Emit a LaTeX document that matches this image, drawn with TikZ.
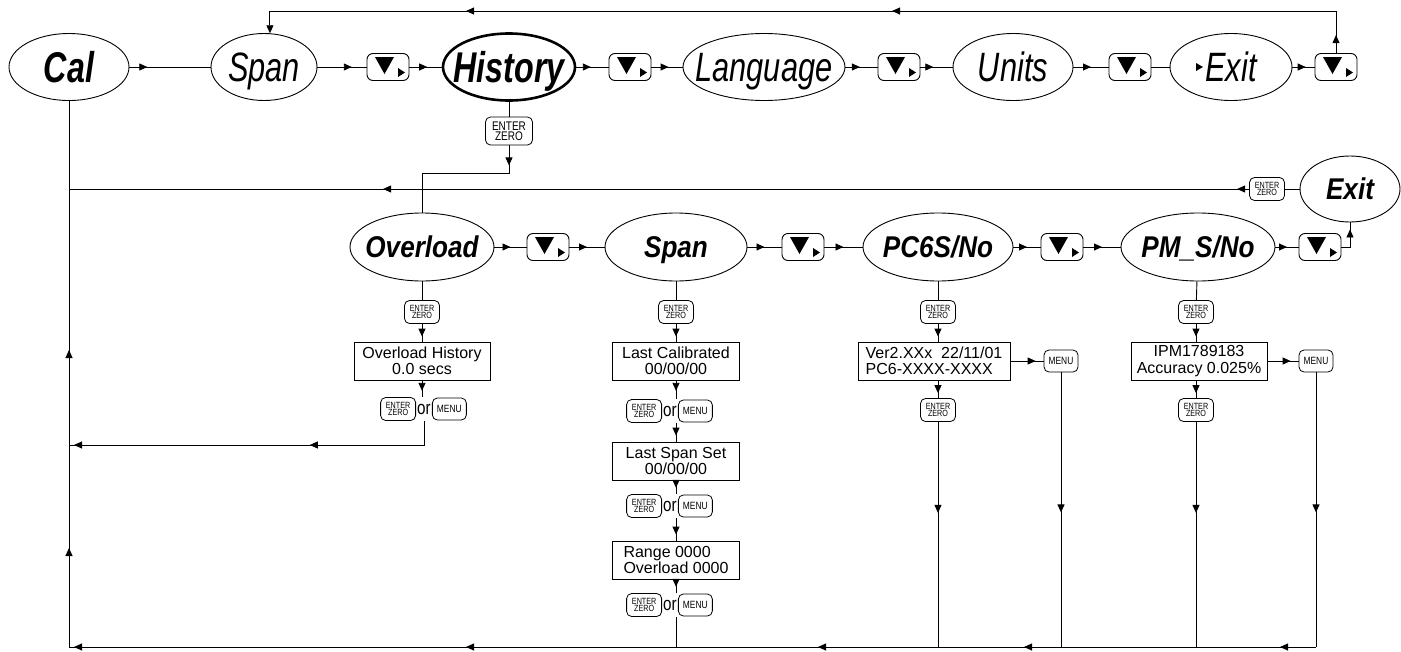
\documentclass[tikz,border=0pt]{standalone}
\usepackage{fontspec}
\setmainfont{Liberation Sans}
\newfontfamily\topfont[FakeStretch=0.75]{Liberation Sans}
\newfontfamily\subfont[FakeStretch=0.87]{Liberation Sans}
\newfontfamily\keyfont[FakeStretch=0.8]{Liberation Sans}
\usepackage{tikz}
\usetikzlibrary{
  shapes.geometric, arrows.meta, positioning, decorations.markings
}
% text of an oval, kept from growing the oval
\newcommand{\ovl}[1]{\makebox[0pt]{\raisebox{-0.36em}[0pt][0pt]{#1}}}

\begin{document}
\begin{tikzpicture}[
    x=1pt, y=-1pt,
    >={Triangle[length=8pt,width=7pt]},
    conn/.style={line width=0.9pt},
    arrat/.style={postaction={decorate,
        decoration={markings, mark=at position #1 with {\arrow{>}}}}},
    oval/.style={ellipse, draw, line width=0.9pt, inner sep=0pt, fill=white},
    topoval/.style={oval, minimum height=67pt,
        font=\topfont\itshape\fontsize{41}{41}\selectfont},
    topbold/.style={oval, minimum height=67pt,
        font=\topfont\bfseries\itshape\fontsize{43}{43}\selectfont},
    suboval/.style={oval, minimum height=68pt,
        font=\subfont\bfseries\itshape\fontsize{30}{30}\selectfont},
    navkey/.style={rectangle, rounded corners=6pt, draw, line width=0.9pt,
        minimum width=42pt, minimum height=27pt, inner sep=0pt,
        path picture={
          \fill[sharp corners] ([shift={(-13,-10)}]path picture bounding box.center)
            -- ++(19,0) -- ++(-9.5,17) -- cycle;
          \fill[sharp corners] ([shift={(10,1)}]path picture bounding box.center)
            -- ++(7,4.5) -- ++(-7,4.5) -- cycle;
        }},
    entkey/.style={rectangle, rounded corners=5pt, draw, line width=0.8pt,
        minimum width=35pt, minimum height=23pt, inner sep=0pt, align=center,
        font=\keyfont\fontsize{9}{7.5}\selectfont},
    menukey/.style={rectangle, rounded corners=5pt, draw, line width=0.8pt,
        minimum width=34pt, minimum height=22pt, inner sep=0pt,
        font=\keyfont\fontsize{10.5}{10.5}\selectfont},
    orlbl/.style={inner sep=0pt, minimum height=24pt,
        font=\keyfont\fontsize{19}{19}\selectfont},
    lcd/.style={rectangle, draw, line width=0.9pt, minimum height=38pt,
        inner sep=2pt, font=\fontsize{16}{16.5}\selectfont}
  ]
    \useasboundingbox (0,0) rectangle (1401,651);

    % Row 1 — main menu
    \node[topbold, minimum width=120pt] (cal)   at (69,67)   {\ovl{Cal}};
    \node[topoval, minimum width=106pt] (span)  at (264,67)  {\ovl{Span}};
    \node[navkey]                       (k1)    at (388,67)  {};
    \node[topbold, line width=2.6pt, minimum width=132pt] (hist) at (509,67) {\ovl{History}};
    \node[navkey]                       (k2)    at (630,67)  {};
    \node[topoval, minimum width=162pt] (lang)  at (764,67)  {\ovl{Language}};
    \node[navkey]                       (k3)    at (899,67)  {};
    \node[topoval, minimum width=120pt] (units) at (1013,67) {\ovl{Units}};
    \node[navkey]                       (k4)    at (1130,67) {};
    \node[topoval, minimum width=122pt] (exit1) at (1231,67) {\ovl{Exit}};
    \node[navkey]                       (k5)    at (1336,67) {};

    % Row 2 — history submenu
    \node[entkey, minimum width=47pt, minimum height=28pt,
          font=\keyfont\fontsize{12.5}{10}\selectfont] (hent) at (509,131) {ENTER\\ZERO};
    \node[suboval, minimum width=144pt] (over)  at (422,247)  {\ovl{Overload}};
    \node[navkey]                       (k6)    at (548,247)  {};
    \node[suboval, minimum width=142pt] (span2) at (676,247)  {\ovl{Span}};
    \node[navkey]                       (k7)    at (803,247)  {};
    \node[suboval, minimum width=150pt] (pc6)   at (938,247)  {\ovl{PC6S/No}};
    \node[navkey]                       (k8)    at (1062,247) {};
    \node[suboval, minimum width=154pt] (pms)   at (1198,247) {\ovl{PM\_S/No}};
    \node[navkey]                       (k9)    at (1320,247) {};
    \node[suboval, minimum width=100pt, minimum height=66pt] (exit2) at (1350,189) {\ovl{Exit}};
    \node[entkey]                       (ent2)  at (1267,189) {ENTER\\ZERO};

    % Overload column
    \node[entkey] (oent) at (422,312) {ENTER\\ZERO};
    \node[lcd, minimum width=136pt, align=center] (obox) at (422,361) {Overload History\\0.0 secs};
    \node[orlbl] (oor) at (424,409) {or};
    \node[entkey, left=1pt of oor]   (oent2)  {ENTER\\ZERO};
    \node[menukey, right=1pt of oor] (omenu)  {MENU};

    % Span column
    \node[entkey] (sent) at (676,312) {ENTER\\ZERO};
    \node[lcd, minimum width=127pt, align=center] (sbox1) at (676,361) {Last Calibrated\\00/00/00};
    \node[orlbl] (sor1) at (670,411) {or};
    \node[entkey, left=1pt of sor1]   (sent1)  {ENTER\\ZERO};
    \node[menukey, right=1pt of sor1] (smenu1) {MENU};
    \node[lcd, minimum width=127pt, align=center] (sbox2) at (676,461) {Last Span Set\\00/00/00};
    \node[orlbl] (sor2) at (670,506) {or};
    \node[entkey, left=1pt of sor2]   (sent2)  {ENTER\\ZERO};
    \node[menukey, right=1pt of sor2] (smenu2) {MENU};
    \node[lcd, minimum width=127pt, align=left] (sbox3) at (676,560) {Range 0000\\Overload 0000};
    \node[orlbl] (sor3) at (670,605) {or};
    \node[entkey, left=1pt of sor3]   (sent3)  {ENTER\\ZERO};
    \node[menukey, right=1pt of sor3] (smenu3) {MENU};

    % PC6S/No column
    \node[entkey] (pent) at (938,312) {ENTER\\ZERO};
    \node[lcd, minimum width=152pt, align=left] (pbox) at (934,361) {Ver2.XXx\ \ 22/11/01\\PC6-XXXX-XXXX};
    \node[menukey] (pmenu) at (1061,361) {MENU};
    \node[entkey] (pent2) at (938,410) {ENTER\\ZERO};

    % PM_S/No column
    \node[entkey] (ment) at (1196,312) {ENTER\\ZERO};
    \node[lcd, minimum width=136pt, align=center] (mbox) at (1199,361) {IPM1789183\\Accuracy 0.025\%};
    \node[menukey] (mmenu) at (1316,361) {MENU};
    \node[entkey] (ment2) at (1196,410) {ENTER\\ZERO};

    % Return corners
    \coordinate (topR)  at (1336,11);
    \coordinate (topL)  at (span.80 |- topR);
    \coordinate (hbend) at (509,173);
    \coordinate (obend) at (422,173);
    \coordinate (calR)  at (69,189);
    \coordinate (obot)  at (424,445);
    \coordinate (ovR)   at (69,445);
    \coordinate (botL)  at (69,647);

    % Arrows — row 1
    \draw[conn, arrat=0.22] (cal)   -- (span);
    \draw[conn, arrat=0.7]  (span)  -- (k1);
    \draw[conn, arrat=0.55] (k1)    -- (hist);
    \draw[conn, arrat=0.45] (hist)  -- (k2);
    \draw[conn, arrat=0.55] (k2)    -- (lang);
    \draw[conn, arrat=0.45] (lang)  -- (k3);
    \draw[conn, arrat=0.4]  (k3)    -- (units);
    \draw[conn, arrat=0.5]  (units) -- (k4);
    \draw[conn]             (k4)    -- (exit1);
    \fill ([shift={(-35,-4)}]exit1.center) -- ++(7,4) -- ++(-7,4) -- cycle;
    \draw[conn, arrat=0.6]  (exit1) -- (k5);
    \draw[conn, ->, arrat=18pt, arrat=486pt, arrat=912pt] (k5) -- (topR) -- (topL) -- (span.80);

    % Arrows — row 2
    \draw[conn] (hist) -- (hent);
    \draw[conn, arrat=20pt] (hent) -- (hbend) -- (obend) -- (over);
    \draw[conn, arrat=0.5] (over)  -- (k6);
    \draw[conn, arrat=0.5] (k6)    -- (span2);
    \draw[conn, arrat=0.5] (span2) -- (k7);
    \draw[conn, arrat=0.5] (k7)    -- (pc6);
    \draw[conn, arrat=0.5] (pc6)   -- (k8);
    \draw[conn, arrat=0.5] (k8)    -- (pms);
    \draw[conn, arrat=0.5] (pms)   -- (k9);
    \draw[conn, arrat=-7pt] (k9) -| (exit2);
    \draw[conn] (exit2) -- (ent2);
    \draw[conn, arrat=12pt, arrat=866pt] (ent2) -- (calR);

    % Overload column
    \draw[conn] (over) -- (oent);
    \draw[conn, arrat=-5pt] (oent) -- (obox);
    \draw[conn, arrat=-6pt] (obox) -- (obox |- oor.north);
    \draw[conn, arrat=138pt, arrat=-5pt] (oor) -- (obot) -- (ovR);

    % Span column
    \draw[conn] (span2) -- (sent);
    \draw[conn, arrat=-5pt] (sent) -- (sbox1);
    \draw[conn, arrat=-8pt] (sbox1) -- (sbox1 |- sor1.north);
    \draw[conn, arrat=-6pt] (sbox1 |- sor1.south) -- (sbox2);
    \draw[conn, arrat=-6pt] (sbox2) -- (sbox2 |- sor2.north);
    \draw[conn, arrat=-6pt] (sbox2 |- sor2.south) -- (sbox3);
    \draw[conn, arrat=-6pt] (sbox3) -- (sbox3 |- sor3.north);
    \draw[conn] (sbox3 |- sor3.south) -- (sbox3 |- botL);

    % PC6S/No column
    \draw[conn] (pc6) -- (pent);
    \draw[conn, arrat=-5pt] (pent) -- (pent |- pbox.north);
    \draw[conn, arrat=-5pt] (pent |- pbox.south) -- (pent2);
    \draw[conn, arrat=-8pt] (pbox) -- (pmenu);
    \draw[conn, arrat=91pt]  (pent2) -- (pent2 |- botL);
    \draw[conn, arrat=140pt] (pmenu) -- (pmenu |- botL);

    % PM_S/No column
    \draw[conn] (pms) -- (ment);
    \draw[conn, arrat=-5pt] (ment) -- (ment |- mbox.north);
    \draw[conn, arrat=-5pt] (ment |- mbox.south) -- (ment2);
    \draw[conn, arrat=-8pt] (mbox) -- (mmenu);
    \draw[conn, arrat=91pt]  (ment2) -- (ment2 |- botL);
    \draw[conn, arrat=140pt] (mmenu) -- (mmenu |- botL);

    % Bottom return to Cal
    \draw[conn, arrat=36pt, arrat=292pt, arrat=498pt, arrat=850pt,
          arrat=1242pt, arrat=1346pt, arrat=1544pt]
      (mmenu |- botL) -- (botL) -- (cal);

  \end{tikzpicture}
\end{document}
